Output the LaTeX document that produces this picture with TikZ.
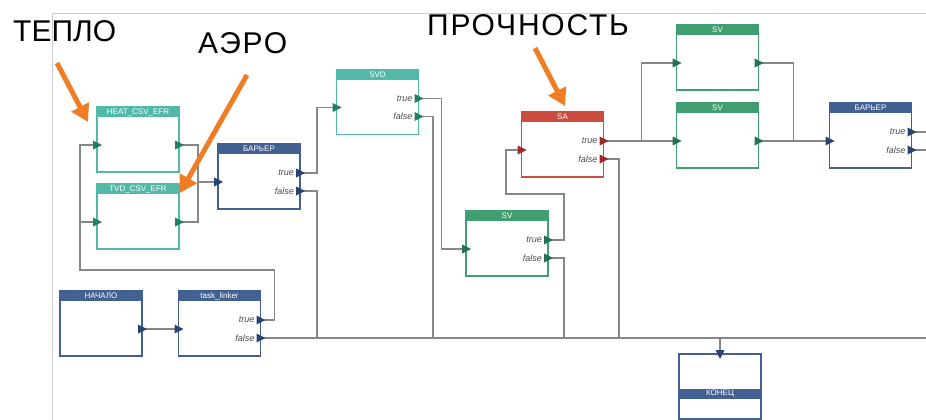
\documentclass[tikz,border=0pt]{standalone}
\usepackage{fontspec}
\setmainfont{Liberation Sans}
\usetikzlibrary{arrows.meta}

\definecolor{tealbox}{RGB}{82,184,168}
\definecolor{tealport}{RGB}{35,125,105}
\definecolor{greenbox}{RGB}{64,158,112}
\definecolor{greenport}{RGB}{35,115,80}
\definecolor{bluebox}{RGB}{66,96,146}
\definecolor{blueport}{RGB}{40,68,112}
\definecolor{redbox}{RGB}{204,76,62}
\definecolor{redport}{RGB}{160,40,40}
\definecolor{wiregray}{RGB}{135,135,135}
\definecolor{framegray}{RGB}{205,205,205}
\definecolor{hint}{RGB}{240,125,35}

\begin{document}
\begin{tikzpicture}[x=1pt,y=-1pt,
  box/.style={draw=#1,line width=1.6pt,fill=white,minimum width=82pt,minimum height=65pt,inner sep=0pt,outer sep=0pt},
  head/.style={fill=#1,text=white,font=\fontsize{8}{8}\selectfont,minimum width=82pt,minimum height=10pt,inner sep=0pt,anchor=north},
  wire/.style={draw=wiregray,line width=1.5pt},
  lbl/.style={anchor=east,text=black!70,font=\fontsize{9}{9}\selectfont\itshape,inner sep=0pt},
  big/.style={anchor=base west,inner sep=0pt,font=\fontsize{30}{30}\selectfont},
  wide/.style={font=\fontsize{30}{30}\selectfont\addfontfeature{LetterSpace=6}},
  hintarrow/.style={draw=hint,line width=5pt,-{Triangle[length=17pt,width=19pt]}}]
	\useasboundingbox (0,0) rectangle (926,420);

	%canvas frame
	\draw[framegray,line width=1pt] (52,420) -- (52,14) -- (926,14);

	%blocks
	\node[box=tealbox] (heat) at (138,139.5) {};
	\node[head=tealbox] (heat-h) at (heat.north) {HEAT\_CSV\_EFR};
	\node[box=tealbox] (tvd) at (138,216.5) {};
	\node[head=tealbox] (tvd-h) at (tvd.north) {TVD\_CSV\_EFR};
	\node[box=bluebox] (barA) at (259,176.5) {};
	\node[head=bluebox] (barA-h) at (barA.north) {БАРЬЕР};
	\node[box=tealbox] (svd) at (377.5,102) {};
	\node[head=tealbox] (svd-h) at (svd.north) {SVD};
	\node[box=greenbox] (svA) at (507,243.5) {};
	\node[head=greenbox] (svA-h) at (svA.north) {SV};
	\node[box=redbox] (sa) at (562.5,144.5) {};
	\node[head=redbox] (sa-h) at (sa.north) {SA};
	\node[box=greenbox] (svB) at (717.5,57.5) {};
	\node[head=greenbox] (svB-h) at (svB.north) {SV};
	\node[box=greenbox] (svC) at (717.5,135.5) {};
	\node[head=greenbox] (svC-h) at (svC.north) {SV};
	\node[box=bluebox] (barB) at (870.5,135.5) {};
	\node[head=bluebox] (barB-h) at (barB.north) {БАРЬЕР};
	\node[box=bluebox] (start) at (101,323.5) {};
	\node[head=bluebox] (start-h) at (start.north) {НАЧАЛО};
	\node[box=bluebox] (linker) at (219.5,323.5) {};
	\node[head=bluebox] (linker-h) at (linker.north) {task\_linker};
	\node[box=bluebox] (finish) at (720,386.5) {};
	\node[head=bluebox,anchor=center] (finish-h) at ([yshift=-7pt]finish.center) {КОНЕЦ};

	%port positions
	\foreach \b in {heat,tvd,barA,svd,svA,sa,svB,svC,barB,start,linker}{
		\coordinate (\b-in) at ([yshift=-38pt]\b.north west);
		\coordinate (\b-out) at ([yshift=-38pt]\b.north east);
		\coordinate (\b-true) at ([yshift=-29pt]\b.north east);
		\coordinate (\b-false) at ([yshift=-47pt]\b.north east);
	}
	\coordinate (finish-in) at (finish.north);

	%turning points
	\coordinate (loopL) at (80,270);
	\coordinate (loopSA) at (506,194);
	\coordinate (dropA) at (317,338);
	\coordinate (dropB) at (433,338);
	\coordinate (dropC) at (564,338);
	\coordinate (dropD) at (619,338);
	\coordinate (busEnd) at (926,338);
	\coordinate (exitT) at (926,132);
	\coordinate (exitF) at (926,150);

	%wires
	\draw[wire] (start-out) -- (linker-in);
	\draw[wire] (linker-false) -- (busEnd);
	\draw[wire] (linker-true) -- ++(14,0) |- (loopL) |- (heat-in);
	\draw[wire] (loopL) |- (tvd-in);
	\draw[wire] (heat-out) -- ++(19,0) |- (barA-in);
	\draw[wire] (tvd-out) -- ++(19,0) |- (barA-in);
	\draw[wire] (barA-true) -- ++(17,0) |- (svd-in);
	\draw[wire] (barA-false) -| (dropA);
	\draw[wire] (svd-true) -- ++(23,0) |- (svA-in);
	\draw[wire] (svd-false) -| (dropB);
	\draw[wire] (svA-true) -- ++(16,0) |- (loopSA) |- (sa-in);
	\draw[wire] (svA-false) -| (dropC);
	\draw[wire] (sa-true) -- (svC-in);
	\draw[wire] (sa-true) -- ++(38,0) |- (svB-in);
	\draw[wire] (sa-false) -| (dropD);
	\draw[wire] (svB-out) -- ++(35,0) |- (barB-in);
	\draw[wire] (svC-out) -- (barB-in);
	\draw[wire] (barB-true) -- (exitT);
	\draw[wire] (barB-false) -- (exitF);
	\draw[wire] (finish-in |- busEnd) -- (finish-in);

	%ports
	\foreach \p in {heat-in,heat-out,tvd-in,tvd-out,svd-in,svd-true,svd-false}
		\fill[tealport] (\p) +(-4,-4.5) -- +(5,0) -- +(-4,4.5) -- cycle;
	\foreach \p in {svA-in,svA-true,svA-false,svB-in,svB-out,svC-in,svC-out}
		\fill[greenport] (\p) +(-4,-4.5) -- +(5,0) -- +(-4,4.5) -- cycle;
	\foreach \p in {barA-in,barA-true,barA-false,barB-in,barB-true,barB-false,start-out,linker-in,linker-true,linker-false}
		\fill[blueport] (\p) +(-4,-4.5) -- +(5,0) -- +(-4,4.5) -- cycle;
	\foreach \p in {sa-in,sa-true,sa-false}
		\fill[redport] (\p) +(-4,-4.5) -- +(5,0) -- +(-4,4.5) -- cycle;
	\fill[blueport] (finish-in) +(-4.5,-4) -- +(0,5) -- +(4.5,-4) -- cycle;

	%true/false labels
	\foreach \b in {barA,svd,svA,sa,barB,linker}{
		\node[lbl] (\b-tl) at ([xshift=-6pt]\b-true) {true};
		\node[lbl] (\b-fl) at ([xshift=-6pt]\b-false) {false};
	}

	%captions
	\node[big] (teplo) at (13,42) {ТЕПЛО};
	\node[big,wide] (aero) at (198,54) {АЭРО};
	\node[big,wide] (strength) at (427,36) {ПРОЧНОСТЬ};
	\coordinate (teploTip) at (88,122);
	\coordinate (aeroTip) at (180,193);
	\coordinate (strengthTip) at (565,106);
	\draw[hintarrow] (57,63) -- (teploTip);
	\draw[hintarrow] (247,75) -- (aeroTip);
	\draw[hintarrow] (535,48) -- (strengthTip);
\end{tikzpicture}
\end{document}
